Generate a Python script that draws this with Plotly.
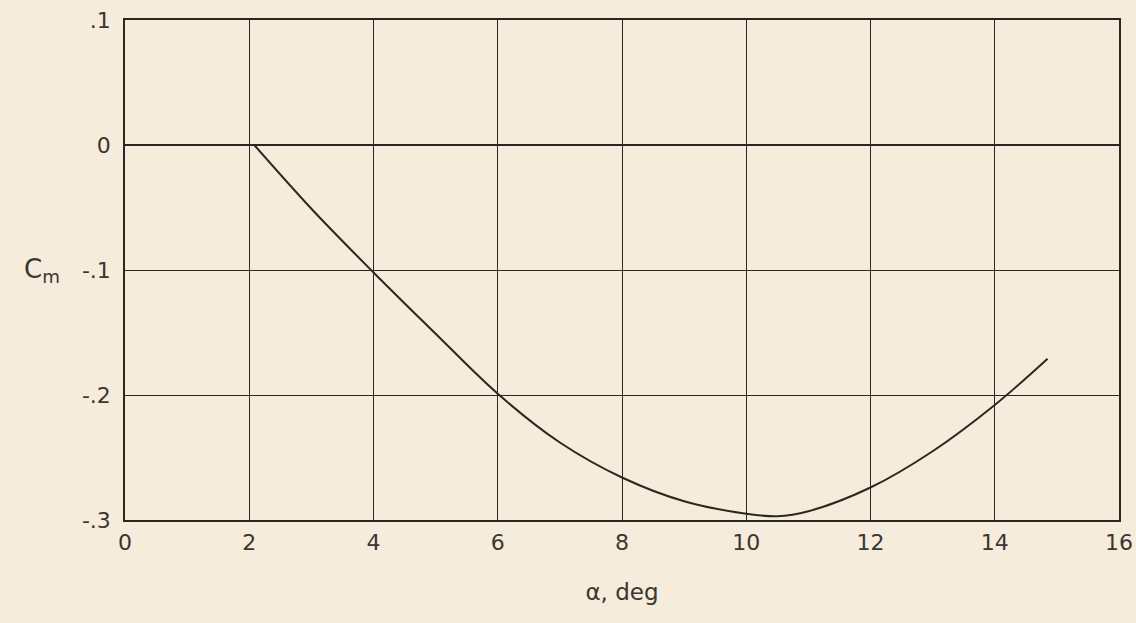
import plotly.graph_objects as go

# Data
alpha = [2.08, 3.0, 4.0, 5.0, 6.0, 7.0, 8.0, 9.0, 10.0, 10.5, 11.0, 12.0, 13.0, 14.0, 14.85]
cm = [0.0, -0.051, -0.102, -0.151, -0.199, -0.238, -0.266, -0.285, -0.295, -0.297,
      -0.293, -0.274, -0.245, -0.208, -0.171]

x_ticks = [0, 2, 4, 6, 8, 10, 12, 14, 16]
x_tick_text = ["0", "2", "4", "6", "8", "10", "12", "14", "16"]
y_ticks = [-0.3, -0.2, -0.1, 0, 0.1]
y_tick_text = ["-.3", "-.2", "-.1", "0", ".1"]

paper = "#f5ecdb"
ink = "#2b2723"
text_ink = "#3a3631"
font_family = "DejaVu Sans"

fig = go.Figure()
fig.add_trace(go.Scatter(x=alpha, y=cm, mode="lines",
                         line=dict(color=ink, width=2, shape="spline", smoothing=1.0),
                         showlegend=False, hoverinfo="skip"))

fig.update_layout(
    width=1136, height=623,
    paper_bgcolor=paper, plot_bgcolor=paper,
    margin=dict(l=125, r=17, t=20, b=103),
    font=dict(family=font_family, color=text_ink, size=22),
    showlegend=False,
    xaxis=dict(range=[0, 16], tickvals=x_ticks, ticktext=x_tick_text,
               showgrid=True, gridcolor=ink, gridwidth=1.3,
               showline=True, mirror=True, linecolor=ink, linewidth=1.5,
               zeroline=False, ticks="", ticklabelstandoff=2,
               ticklabeloverflow="allow", automargin=False,
               tickfont=dict(size=22, family=font_family, color=text_ink),
               title=dict(text="α, deg", standoff=30, font=dict(size=23, family=font_family, color=text_ink))),
    yaxis=dict(range=[-0.3, 0.1], tickvals=y_ticks, ticktext=y_tick_text,
               showgrid=True, gridcolor=ink, gridwidth=1.3,
               showline=True, mirror=True, linecolor=ink, linewidth=1.5,
               zeroline=True, zerolinecolor=ink, zerolinewidth=2,
               ticks="", ticklabelstandoff=8, ticklabeloverflow="allow", automargin=False,
               tickfont=dict(size=22, family=font_family, color=text_ink)),
    annotations=[dict(text="C<sub>m</sub>", xref="paper", yref="paper", x=-0.083, y=0.5,
                      xanchor="center", yanchor="middle", showarrow=False,
                      font=dict(size=26, family=font_family, color=text_ink))],
)

fig.write_html("out.html", config={"displayModeBar": False},
               post_script="document.body.style.margin='0';document.body.style.background='%s';" % paper)
